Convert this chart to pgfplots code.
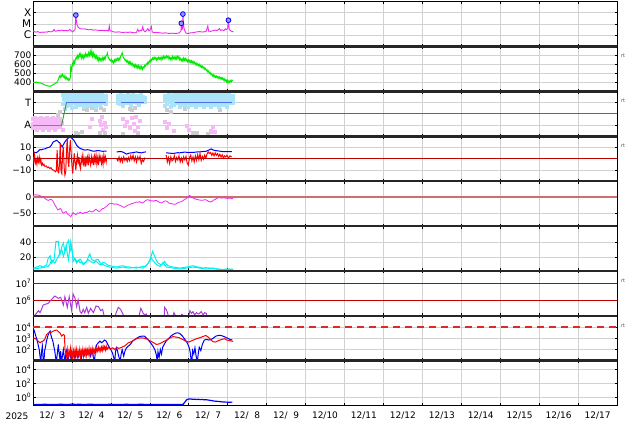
\documentclass[border=0pt]{standalone}
\usepackage{pgfplots}
\pgfplotsset{compat=1.18}
\usepackage{fontspec}
\setmainfont{DejaVu Sans}
\definecolor{xmag}{RGB}{240,40,240}
\definecolor{vgreen}{RGB}{0,235,0}
\definecolor{ltblue}{RGB}{170,228,250}
\definecolor{ltpink}{RGB}{245,185,245}
\definecolor{ltgray}{RGB}{205,205,205}
\definecolor{tline}{RGB}{80,110,230}
\definecolor{aline}{RGB}{240,80,120}
\definecolor{gline}{RGB}{70,140,70}
\definecolor{dstline}{RGB}{205,110,110}
\definecolor{kcyan}{RGB}{0,240,240}
\definecolor{epurp}{RGB}{170,60,220}
\definecolor{dred}{RGB}{190,0,0}
\definecolor{dashred}{RGB}{225,40,40}
\definecolor{fblue}{RGB}{150,150,255}
\pgfplotsset{
 panel/.style={width=584pt,height=44.9pt,scale only axis,anchor=north west,
   xmin=0,xmax=15,xtick={1,2,...,14},xticklabels={},
   grid=major, major grid style={draw=black!18,line width=0.5pt},
   axis line style={line width=0.7pt},
   tick align=inside, major tick length=2.5pt, tick style={black,line width=0.5pt},
   yticklabel style={font=\fontsize{9}{10}\selectfont, inner sep=1.5pt},
   every axis plot/.append style={line width=0.8pt},
   unbounded coords=jump, clip mode=individual},
}
\begin{document}
\begin{tikzpicture}
\useasboundingbox (0,0) rectangle (634pt,-424pt);
% ---------- 1 X-ray
\begin{axis}[panel, at={(33pt,-1.5pt)}, ymin=-7, ymax=-3, ytick={-6,-5,-4}, yticklabels={C,M,X},
  yticklabel style={font=\fontsize{10.5}{11}\selectfont}]
\addplot[xmag, line width=0.9pt] coordinates {
(0.00,-5.61)(0.04,-5.70)(0.08,-5.73)(0.12,-5.68)(0.16,-5.74)(0.20,-5.76)(0.24,-5.72)(0.28,-5.75)
(0.32,-5.71)(0.36,-5.73)(0.40,-5.66)(0.44,-5.70)(0.48,-5.69)(0.52,-5.62)(0.54,-5.49)(0.56,-5.63)
(0.60,-5.64)(0.64,-5.58)(0.68,-5.61)(0.72,-5.55)(0.76,-5.57)(0.80,-5.60)(0.84,-5.58)(0.88,-5.61)
(0.92,-5.55)(0.95,-5.49)(0.98,-5.62)(1.02,-5.70)(1.05,-5.60)(1.08,-5.49)(1.10,-4.21)(1.11,-4.60)
(1.13,-5.09)(1.16,-5.30)(1.21,-5.42)(1.26,-5.45)(1.32,-5.44)(1.38,-5.48)(1.44,-5.52)(1.50,-5.50)
(1.55,-5.55)(1.60,-5.53)(1.66,-5.56)(1.72,-5.58)(1.78,-5.57)(1.84,-5.60)(1.90,-5.58)(1.94,-5.62)
(1.96,-5.18)(1.98,-5.60)(2.02,-5.64)(2.06,-5.70)(2.10,-5.72)(2.15,-5.73)(2.20,-5.70)(2.26,-5.74)
(2.32,-5.76)(2.38,-5.73)(2.44,-5.75)(2.50,-5.72)(2.56,-5.77)(2.62,-5.79)(2.66,-5.74)(2.69,-5.48)
(2.72,-5.66)(2.76,-5.55)(2.79,-5.60)(2.82,-5.24)(2.84,-5.58)(2.88,-5.70)(2.92,-5.55)(2.95,-5.42)
(2.98,-5.62)(3.01,-5.50)(3.04,-5.24)(3.06,-5.70)(3.10,-5.78)(3.16,-5.75)(3.22,-5.77)(3.28,-5.80)
(3.34,-5.82)(3.40,-5.79)(3.46,-5.83)(3.52,-5.85)(3.58,-5.82)(3.64,-5.85)(3.70,-5.83)(3.76,-5.79)
(3.80,-5.60)(3.81,-4.94)(3.82,-5.50)(3.84,-5.45)(3.85,-4.12)(3.87,-5.20)(3.89,-5.55)(3.93,-5.82)
(3.98,-5.85)(4.04,-5.80)(4.10,-5.78)(4.16,-5.74)(4.22,-5.70)(4.28,-5.68)(4.34,-5.72)(4.40,-5.70)
(4.45,-5.65)(4.49,-5.18)(4.51,-5.64)(4.56,-5.66)(4.62,-5.60)(4.68,-5.55)(4.72,-5.60)(4.76,-5.50)
(4.79,-5.42)(4.82,-5.58)(4.86,-5.52)(4.90,-5.60)(4.94,-5.45)(4.97,-5.50)(5.00,-5.40)(5.02,-4.67)
(5.04,-5.50)(5.08,-5.62)(5.12,-5.68)(5.15,-5.70)};
\addplot[only marks, mark=*, mark size=2.4pt, mark options={draw=blue, fill=fblue, line width=0.8pt}] coordinates {
(1.10,-4.21)(3.81,-4.94)(3.85,-4.12)(5.02,-4.67)};
\end{axis}
% ---------- 2 speed
\begin{axis}[panel, at={(33pt,-46.4pt)}, ymin=300, ymax=800, ytick={400,500,600,700}, yticklabels={400,500,600,700}]
\addplot[vgreen, line width=1.0pt] coordinates {
(0.00,400)(0.04,398)(0.08,402)(0.12,396)(0.16,395)(0.20,392)(0.24,385)(0.28,375)(0.32,368)(0.36,362)
(0.40,358)(0.44,356)(0.48,365)(0.52,375)(0.56,385)(0.60,395)(0.63,410)(0.66,440)(0.68,470)(0.70,455)
(0.72,480)(0.74,462)(0.76,490)(0.78,470)(0.80,450)(0.82,475)(0.84,440)(0.86,455)(0.88,430)(0.90,445)
(0.92,420)(0.94,430)(0.96,460)(0.97,570)(0.99,540)(1.01,610)(1.03,590)(1.05,640)(1.07,610)(1.09,655)
(1.11,680)(1.13,660)(1.15,700)(1.17,675)(1.19,715)(1.21,690)(1.23,720)(1.25,670)(1.27,700)(1.29,665)
(1.31,705)(1.33,680)(1.35,720)(1.37,690)(1.39,710)(1.41,685)(1.43,730)(1.45,700)(1.47,745)(1.49,705)
(1.51,750)(1.53,690)(1.55,725)(1.57,680)(1.59,710)(1.61,670)(1.63,695)(1.65,650)(1.67,680)(1.69,640)
(1.71,670)(1.73,645)(1.75,665)(1.77,640)(1.79,675)(1.81,650)(1.83,680)(1.85,655)(1.87,690)(1.89,700)
(1.91,725)(1.93,680)(1.95,665)(1.97,650)(1.99,640)(2.01,655)(2.03,625)(2.05,640)(2.07,615)(2.09,650)
(2.11,630)(2.13,660)(2.15,640)(2.17,665)(2.19,645)(2.21,670)(2.23,650)(2.25,690)(2.27,705)(2.29,730)
(2.31,690)(2.33,670)(2.35,660)(2.37,640)(2.39,650)(2.41,625)(2.43,640)(2.45,610)(2.47,630)(2.49,600)
(2.51,625)(2.53,595)(2.55,610)(2.57,580)(2.59,600)(2.61,570)(2.63,595)(2.65,565)(2.67,590)(2.69,560)
(2.71,585)(2.73,555)(2.75,580)(2.77,550)(2.79,575)(2.81,545)(2.83,570)(2.85,560)(2.87,590)(2.89,580)
(2.91,605)(2.93,595)(2.95,625)(2.97,610)(2.99,640)(3.01,625)(3.03,655)(3.05,640)(3.07,670)(3.09,655)
(3.11,680)(3.13,660)(3.15,675)(3.17,650)(3.19,670)(3.21,655)(3.23,680)(3.25,660)(3.27,675)(3.29,650)
(3.31,680)(3.33,660)(3.35,690)(3.37,665)(3.39,685)(3.41,670)(3.43,695)(3.45,675)(3.47,690)(3.49,660)
(3.51,680)(3.53,655)(3.55,675)(3.57,650)(3.59,690)(3.61,665)(3.63,680)(3.65,655)(3.67,685)(3.69,660)
(3.71,690)(3.73,670)(3.75,685)(3.77,650)(3.79,665)(3.81,640)(3.83,660)(3.85,635)(3.87,670)(3.89,645)
(3.91,665)(3.93,640)(3.95,655)(3.97,630)(3.99,650)(4.01,625)(4.03,645)(4.05,620)(4.07,640)(4.09,615)
(4.11,635)(4.13,610)(4.15,625)(4.17,600)(4.19,615)(4.21,590)(4.23,605)(4.25,585)(4.27,600)(4.29,575)
(4.31,590)(4.33,565)(4.35,580)(4.37,560)(4.39,570)(4.41,545)(4.43,555)(4.45,530)(4.47,540)(4.49,515)
(4.51,525)(4.53,500)(4.55,510)(4.57,485)(4.59,495)(4.61,470)(4.63,485)(4.65,460)(4.67,475)(4.69,455)
(4.71,470)(4.73,450)(4.75,465)(4.77,445)(4.79,460)(4.81,440)(4.83,455)(4.85,435)(4.87,450)(4.89,425)
(4.91,440)(4.93,415)(4.95,430)(4.97,405)(4.99,425)(5.01,395)(5.03,415)(5.05,400)(5.07,420)(5.09,405)
(5.11,425)(5.13,415)};
\end{axis}
% ---------- 3 T/A
\begin{axis}[panel, at={(33pt,-91.3pt)}, ymin=-2, ymax=2, ytick={-1,1}, yticklabels={A,T},
  yticklabel style={font=\fontsize{10}{11}\selectfont}]
\addplot[gray!80!black, line width=0.6pt] coordinates {(0,0)(15,0)};
\addplot[ltgray, only marks, mark=square*, mark size=1.5pt] coordinates {
(1.30,0.45)(1.38,0.30)(1.50,0.50)(1.62,0.35)(1.75,0.55)(1.82,0.30)(1.10,-1.70)(1.15,-1.80)(1.25,-1.60)
(1.85,-1.75)(2.50,0.40)(2.55,0.30)(2.62,0.50)(3.45,0.30)(3.55,0.20)(4.10,-1.75)(4.20,-1.70)(4.50,-1.80)
(4.58,-1.65)(0.70,0.20)(0.65,-0.10)(1.72,-1.75)(1.45,1.85)(1.70,1.85)(2.45,1.85)(4.30,1.85)(4.80,0.35)
(3.90,0.40)(2.30,-1.80)(2.70,-1.70)};
\addplot[ltpink, only marks, mark=square*, mark size=1.5pt] coordinates {
(0.00,-0.50)(0.00,-0.90)(0.00,-1.30)(0.05,-0.40)(0.05,-0.80)(0.05,-1.20)(0.10,-0.60)(0.10,-1.00)(0.10,-1.40)
(0.15,-0.50)(0.15,-0.90)(0.15,-1.30)(0.20,-0.40)(0.20,-0.80)(0.20,-1.20)(0.25,-0.60)(0.25,-1.00)(0.25,-1.40)
(0.30,-0.50)(0.30,-0.90)(0.30,-1.30)(0.35,-0.40)(0.35,-0.80)(0.35,-1.20)(0.40,-0.60)(0.40,-1.00)(0.40,-1.40)
(0.45,-0.50)(0.45,-0.90)(0.45,-1.30)(0.50,-0.40)(0.50,-0.80)(0.50,-1.20)(0.55,-0.60)(0.55,-1.00)(0.55,-1.40)
(0.60,-0.50)(0.60,-0.90)(0.60,-1.30)(0.65,-0.70)(0.65,-1.10)(0.70,-0.50)(0.70,-1.20)(0.75,-0.80)(0.78,-1.40)
(1.72,-0.60)(1.74,-1.00)(1.76,-0.30)(1.80,-1.40)(1.84,-0.80)(1.87,-1.20)(2.32,-0.50)(2.36,-1.10)(2.42,-0.70)
(2.50,-1.30)(2.55,-0.40)(2.60,-0.90)(2.65,-0.30)(2.70,-1.20)(2.74,-0.60)(3.40,-0.70)(3.45,-1.30)(3.50,-0.90)
(3.62,-1.50)(3.95,-1.10)(4.00,-1.40)(4.58,-1.50)(4.62,-1.20)(4.66,-1.60)(1.50,-0.50)(1.45,-1.20)(2.62,-1.50)};
\addplot[ltblue, only marks, mark=square*, mark size=1.5pt] coordinates {
(0.76,1.70)(0.76,0.90)(0.79,1.30)(0.81,1.50)(0.81,1.05)(0.81,0.45)
(0.86,1.65)(0.86,1.35)(0.86,1.05)(0.86,0.70)(0.91,1.55)(0.91,1.25)(0.91,0.95)
(0.96,1.70)(0.96,1.40)(0.96,1.10)(0.96,0.80)(1.01,1.60)(1.01,1.30)(1.01,1.00)(1.01,0.55)
(1.06,1.65)(1.06,1.35)(1.06,1.05)(1.11,1.55)(1.11,1.25)(1.11,0.95)(1.11,0.65)
(1.16,1.70)(1.16,1.40)(1.16,1.10)(1.21,1.60)(1.21,1.30)(1.21,1.00)(1.21,0.75)
(1.26,1.65)(1.26,1.35)(1.26,1.05)(1.31,1.55)(1.31,1.25)(1.31,0.95)(1.31,0.60)
(1.36,1.70)(1.36,1.40)(1.36,1.10)(1.41,1.60)(1.41,1.30)(1.41,1.00)(1.41,0.70)
(1.46,1.65)(1.46,1.35)(1.46,1.05)(1.51,1.55)(1.51,1.25)(1.51,0.95)(1.51,0.80)
(1.56,1.70)(1.56,1.40)(1.56,1.10)(1.61,1.60)(1.61,1.30)(1.61,1.00)(1.61,0.65)
(1.66,1.65)(1.66,1.35)(1.66,1.05)(1.71,1.55)(1.71,1.25)(1.71,0.95)(1.71,0.75)
(1.76,1.70)(1.76,1.40)(1.76,1.10)(1.81,1.60)(1.81,1.30)(1.81,1.00)(1.86,1.55)(1.86,1.25)(1.86,0.90)
(2.17,1.60)(2.17,1.30)(2.17,0.95)(2.22,1.50)(2.22,1.20)(2.22,0.85)(2.27,1.65)(2.27,1.35)(2.27,1.05)
(2.32,1.55)(2.32,1.25)(2.32,0.70)(2.37,1.60)(2.37,1.30)(2.37,1.00)(2.42,1.45)(2.42,1.15)
(2.47,1.60)(2.47,1.30)(2.47,1.00)(2.52,1.55)(2.52,1.25)(2.52,0.80)(2.57,1.65)(2.57,1.35)(2.57,1.05)
(2.62,1.50)(2.62,1.20)(2.67,1.60)(2.67,1.30)(2.67,0.95)(2.72,1.55)(2.72,1.25)(2.72,0.75)
(2.77,1.65)(2.77,1.35)(2.77,1.05)(2.82,1.50)(2.82,1.20)(2.87,1.40)(2.87,1.10)
(3.38,1.60)(3.38,1.20)(3.38,0.70)(3.43,1.50)(3.43,1.20)(3.43,0.90)(3.48,1.65)(3.48,1.35)(3.48,1.05)
(3.53,1.55)(3.53,1.25)(3.53,0.60)(3.58,1.60)(3.58,1.30)(3.58,1.00)(3.63,1.70)(3.63,1.40)(3.63,1.10)(3.63,0.80)
(3.68,1.55)(3.68,1.25)(3.68,0.95)(3.73,1.65)(3.73,1.35)(3.73,1.05)(3.78,1.55)(3.78,1.25)(3.78,0.95)(3.78,0.65)
(3.83,1.70)(3.83,1.40)(3.83,1.10)(3.88,1.60)(3.88,1.30)(3.88,1.00)(3.88,0.75)
(3.93,1.65)(3.93,1.35)(3.93,1.05)(3.98,1.55)(3.98,1.25)(3.98,0.95)(3.98,0.65)
(4.03,1.70)(4.03,1.40)(4.03,1.10)(4.08,1.60)(4.08,1.30)(4.08,1.00)(4.08,0.75)
(4.13,1.65)(4.13,1.35)(4.13,1.05)(4.18,1.55)(4.18,1.25)(4.18,0.95)(4.18,0.65)
(4.23,1.70)(4.23,1.40)(4.23,1.10)(4.28,1.60)(4.28,1.30)(4.28,1.00)(4.28,0.75)
(4.33,1.65)(4.33,1.35)(4.33,1.05)(4.38,1.55)(4.38,1.25)(4.38,0.95)(4.38,0.65)
(4.43,1.70)(4.43,1.40)(4.43,1.10)(4.48,1.60)(4.48,1.30)(4.48,1.00)(4.48,0.75)
(4.53,1.65)(4.53,1.35)(4.53,1.05)(4.58,1.55)(4.58,1.25)(4.58,0.95)(4.58,0.65)
(4.63,1.70)(4.63,1.40)(4.63,1.10)(4.68,1.60)(4.68,1.30)(4.68,1.00)(4.68,0.75)
(4.73,1.65)(4.73,1.35)(4.73,1.05)(4.78,1.55)(4.78,1.25)(4.78,0.95)(4.78,0.65)
(4.83,1.70)(4.83,1.40)(4.83,1.10)(4.88,1.60)(4.88,1.30)(4.88,1.00)(4.88,0.75)
(4.93,1.65)(4.93,1.35)(4.93,1.05)(4.98,1.55)(4.98,1.25)(4.98,0.95)(4.98,0.65)
(5.03,1.70)(5.03,1.40)(5.03,1.10)(5.08,1.60)(5.08,1.30)(5.08,1.00)(5.13,1.55)(5.13,1.25)(5.13,0.95)};
\addplot[aline, line width=0.9pt] coordinates {(0,-1)(0.735,-1)};
\addplot[gline, line width=0.9pt] coordinates {(0.735,-1)(0.86,1)};
\addplot[tline, line width=0.9pt] coordinates {(0.86,1)(1.87,1)(1.88,nan)(2.27,1)(2.85,1)(2.86,nan)(3.64,1)(5.11,1)};
\end{axis}
% ---------- 4 B field
\begin{axis}[panel, at={(33pt,-136.2pt)}, ymin=-20, ymax=20, ytick={-10,0,10}, yticklabels={−10,0,10}]
\addplot[blue, line width=1.0pt] coordinates {
(0.00,6.0)(0.04,5.5)(0.09,5.4)(0.13,6.5)(0.18,8.2)(0.22,7.8)(0.26,8.5)(0.31,8.7)(0.35,9.5)(0.40,10.0)
(0.44,10.5)(0.48,12.5)(0.52,14.9)(0.56,15.5)(0.61,16.4)(0.65,15.0)(0.69,14.0)(0.72,12.0)(0.75,10.5)
(0.78,12.5)(0.82,15.0)(0.85,16.4)(0.88,17.5)(0.91,18.5)(0.95,19.0)(0.99,18.5)(1.02,17.5)(1.05,16.4)
(1.09,14.0)(1.12,12.0)(1.16,10.5)(1.21,9.1)(1.26,8.5)(1.33,7.6)(1.40,8.0)(1.46,7.6)(1.52,6.8)(1.59,6.7)
(1.65,7.2)(1.72,7.0)(1.79,6.5)(1.85,6.7)(1.89,6.7)(1.90,nan)
(2.15,6.0)(2.20,6.2)(2.27,6.3)(2.33,5.5)(2.40,4.0)(2.46,4.8)(2.53,5.2)(2.60,5.6)(2.66,6.0)(2.72,5.4)
(2.79,5.2)(2.85,5.8)(2.90,6.0)(2.92,nan)
(3.42,5.2)(3.48,5.0)(3.54,4.8)(3.60,4.6)(3.66,5.0)(3.72,5.3)(3.77,5.2)(3.83,5.5)(3.88,5.8)(3.94,5.7)
(4.00,5.4)(4.05,5.6)(4.11,5.5)(4.17,5.8)(4.22,6.0)(4.28,6.0)(4.34,6.3)(4.40,6.5)(4.45,6.6)(4.50,7.5)
(4.54,8.0)(4.58,8.7)(4.62,7.8)(4.67,7.3)(4.73,7.0)(4.79,6.7)(4.85,6.4)(4.91,6.3)(4.97,6.2)(5.03,6.3)
(5.08,6.2)(5.11,6.2)};
\addplot[red, line width=1.0pt] coordinates {
(0.00,1.6)(0.02,-2.5)(0.04,3.0)(0.06,-4.0)(0.08,-1.0)(0.10,-5.0)(0.12,0.5)(0.14,-2.8)(0.16,1.5)(0.18,-3.5)
(0.20,-0.5)(0.22,-5.5)(0.24,-4.0)(0.26,-6.0)(0.28,-5.0)(0.31,-7.0)(0.34,-6.5)(0.37,-8.0)(0.40,-7.5)
(0.43,-8.8)(0.46,-8.0)(0.49,-9.5)(0.52,-10.2)(0.55,-10.8)(0.58,-11.7)(0.60,-10.5)(0.62,7.5)(0.64,-11.7)
(0.66,-12.5)(0.68,-5.0)(0.70,13.5)(0.72,-11.0)(0.74,-13.2)(0.76,4.0)(0.78,10.5)(0.80,-8.0)(0.82,-14.7)
(0.84,-12.0)(0.86,6.0)(0.88,17.9)(0.90,-2.0)(0.92,-7.3)(0.94,8.0)(0.96,16.4)(0.98,5.0)(1.00,-6.0)
(1.02,-13.2)(1.04,-4.0)(1.06,4.6)(1.08,-3.0)(1.10,-10.2)(1.12,-2.0)(1.14,3.0)(1.16,-5.0)(1.18,1.6)
(1.20,-6.0)(1.22,-8.8)(1.24,0.5)(1.26,-3.0)(1.28,3.1)(1.30,-4.5)(1.32,-1.0)(1.34,-7.3)(1.36,2.0)
(1.38,-3.5)(1.40,1.0)(1.42,-6.0)(1.44,2.5)(1.46,-2.0)(1.48,-5.5)(1.50,1.6)(1.52,-3.0)(1.54,0.5)
(1.56,-5.8)(1.58,2.0)(1.60,-2.5)(1.62,3.1)(1.64,-4.5)(1.66,0.5)(1.68,-5.8)(1.70,2.5)(1.72,-1.5)
(1.74,1.6)(1.76,-4.0)(1.78,0.5)(1.80,-5.0)(1.82,3.0)(1.84,-2.0)(1.86,1.6)(1.88,-2.8)(1.89,0.0)(1.90,nan)
(2.15,0.0)(2.18,-2.0)(2.21,1.5)(2.24,-2.8)(2.27,0.5)(2.30,-3.0)(2.33,1.6)(2.36,-1.5)(2.39,0.5)(2.42,-2.5)
(2.45,1.0)(2.48,-1.8)(2.51,2.5)(2.54,-1.0)(2.57,3.1)(2.60,-2.0)(2.63,1.5)(2.66,-3.0)(2.69,1.6)(2.72,-1.0)
(2.75,2.0)(2.78,-4.3)(2.81,-1.0)(2.84,-2.5)(2.87,0.5)(2.90,0.0)(2.92,nan)
(3.42,3.1)(3.45,-3.0)(3.48,1.0)(3.51,-4.3)(3.54,1.6)(3.57,-2.0)(3.60,-1.0)(3.63,2.5)(3.66,-2.5)(3.69,1.0)
(3.72,-1.4)(3.75,2.5)(3.78,-3.0)(3.81,0.5)(3.84,-2.8)(3.87,1.6)(3.90,-1.0)(3.93,2.0)(3.96,-4.0)(3.99,-5.8)
(4.02,1.0)(4.05,3.1)(4.08,-2.0)(4.11,1.5)(4.14,-3.0)(4.17,2.5)(4.20,-1.4)(4.23,3.5)(4.26,-1.0)(4.29,4.6)
(4.32,-1.5)(4.35,2.0)(4.38,-0.5)(4.41,3.1)(4.44,0.5)(4.47,4.0)(4.50,6.0)(4.53,4.6)(4.56,5.5)(4.59,3.0)
(4.62,5.0)(4.65,2.5)(4.68,5.1)(4.71,3.0)(4.74,4.5)(4.77,2.0)(4.80,3.9)(4.83,1.5)(4.86,3.5)(4.89,0.5)
(4.92,2.5)(4.95,1.6)(4.98,3.0)(5.02,0.5)(5.06,2.5)(5.10,1.6)};
\addplot[dred, line width=0.8pt] coordinates {(0,0)(15,0)};
\end{axis}
% ---------- 5 Dst
\begin{axis}[panel, at={(33pt,-181.1pt)}, ymin=-90, ymax=50, ytick={-50,0}, yticklabels={−50,0}]
\addplot[dstline, line width=1.6pt] coordinates {(0,0)(15,0)};
\addplot[xmag] coordinates {
(0.00,6)(0.05,7)(0.10,7)(0.14,6)(0.19,4)(0.23,2)(0.27,0)(0.31,-4)(0.35,-8)(0.39,-10)(0.43,-8)(0.47,-7)
(0.51,-12)(0.55,-22)(0.58,-28)(0.61,-34)(0.64,-40)(0.67,-38)(0.70,-35)(0.73,-40)(0.76,-48)(0.79,-50)
(0.82,-46)(0.85,-45)(0.88,-52)(0.91,-55)(0.94,-57)(0.97,-61)(1.00,-55)(1.03,-48)(1.06,-51)(1.09,-54)
(1.12,-53)(1.15,-49)(1.18,-50)(1.21,-47)(1.24,-49)(1.27,-51)(1.30,-50)(1.34,-47)(1.38,-48)(1.42,-45)
(1.46,-43)(1.50,-46)(1.54,-45)(1.58,-41)(1.62,-38)(1.66,-42)(1.70,-45)(1.74,-42)(1.78,-36)(1.82,-35)
(1.86,-31)(1.90,-28)(1.94,-22)(1.98,-20)(2.02,-19)(2.06,-21)(2.10,-22)(2.14,-21)(2.18,-23)(2.22,-25)
(2.26,-27)(2.30,-30)(2.34,-32)(2.38,-29)(2.42,-26)(2.46,-24)(2.50,-22)(2.54,-20)(2.58,-19)(2.62,-17)
(2.66,-15)(2.70,-16)(2.74,-14)(2.78,-17)(2.82,-18)(2.86,-14)(2.90,-10)(2.94,-8)(2.98,-9)(3.02,-12)
(3.06,-11)(3.10,-13)(3.14,-10)(3.18,-11)(3.22,-14)(3.26,-17)(3.30,-18)(3.34,-15)(3.38,-12)(3.42,-12)
(3.46,-15)(3.50,-19)(3.54,-20)(3.58,-21)(3.62,-22)(3.66,-22)(3.70,-19)(3.74,-16)(3.78,-15)(3.82,-14)
(3.86,-10)(3.90,-7)(3.94,-4)(3.98,0)(4.02,5)(4.05,3)(4.08,-1)(4.12,-3)(4.16,-5)(4.20,-7)(4.24,-8)
(4.28,-9)(4.32,-10)(4.36,-10)(4.40,-8)(4.44,-8)(4.48,-11)(4.52,-14)(4.56,-15)(4.60,-13)(4.64,-9)
(4.68,-7)(4.72,-4)(4.76,-2)(4.80,-2)(4.85,-3)(4.90,-2)(4.95,-3)(5.00,-4)(5.05,-3)(5.10,-4)(5.14,-5)};
\end{axis}
% ---------- 6 cyan
\begin{axis}[panel, at={(33pt,-226.0pt)}, ymin=1.5, ymax=61.5, ytick={20,40}, yticklabels={20,40}]
\addplot[kcyan, line width=1.0pt] coordinates {
(0.01,5.3)(0.09,6.6)(0.18,8.4)(0.26,6.6)(0.35,9.7)(0.39,18.6)(0.44,21.7)(0.48,12.0)(0.54,16.4)
(0.59,40.8)(0.65,40.8)(0.69,23.0)(0.74,34.2)(0.78,38.6)(0.82,27.5)(0.86,36.4)(0.91,42.1)(0.95,27.5)
(0.99,34.2)(1.03,14.2)(1.08,18.0)(1.12,14.2)(1.17,16.0)(1.21,12.0)(1.25,13.5)(1.29,9.7)(1.34,12.0)
(1.38,14.2)(1.42,20.0)(1.46,24.4)(1.50,17.3)(1.55,15.5)(1.59,14.2)(1.63,17.0)(1.68,16.4)(1.72,12.5)
(1.76,11.1)(1.80,13.0)(1.85,12.0)(1.91,9.5)(1.97,8.4)(2.06,7.5)(2.15,6.6)(2.23,8.0)(2.32,8.4)
(2.40,7.0)(2.49,6.6)(2.57,5.8)(2.66,5.3)(2.74,6.5)(2.83,7.5)(2.91,8.4)(2.96,12.0)(3.00,16.4)
(3.04,22.0)(3.07,27.5)(3.10,24.0)(3.13,20.8)(3.17,15.0)(3.21,12.0)(3.26,10.5)(3.30,9.7)(3.34,11.0)
(3.38,14.2)(3.42,11.0)(3.47,8.4)(3.54,7.5)(3.60,6.6)(3.68,6.0)(3.77,5.3)(3.85,6.0)(3.94,6.6)
(4.02,7.5)(4.11,8.4)(4.17,7.5)(4.24,6.6)(4.30,6.0)(4.37,5.3)(4.45,5.8)(4.54,5.3)(4.62,4.8)
(4.71,4.4)(4.80,3.8)(4.88,3.1)(4.97,3.5)(5.05,4.0)(5.14,4.0)};
\addplot[kcyan, line width=1.0pt] coordinates {
(0.01,4.0)(0.09,4.6)(0.18,5.3)(0.24,6.0)(0.31,6.6)(0.39,7.5)(0.44,11.0)(0.48,16.4)(0.52,14.0)
(0.56,12.0)(0.61,17.0)(0.65,20.8)(0.69,25.0)(0.74,29.7)(0.78,20.8)(0.82,27.0)(0.85,34.2)(0.88,25.0)
(0.91,16.4)(0.94,28.0)(0.97,40.8)(1.00,30.0)(1.03,20.8)(1.08,16.0)(1.12,12.0)(1.16,14.5)(1.21,17.3)
(1.25,14.0)(1.29,11.1)(1.36,13.5)(1.42,16.4)(1.48,14.0)(1.55,12.0)(1.59,13.5)(1.63,14.2)(1.68,11.5)
(1.72,9.7)(1.78,10.5)(1.85,8.4)(1.91,7.5)(1.97,6.6)(2.06,5.8)(2.15,5.3)(2.23,6.0)(2.32,6.6)
(2.40,5.8)(2.49,5.3)(2.57,6.0)(2.66,6.6)(2.74,5.8)(2.83,5.3)(2.90,8.0)(2.96,12.0)(3.00,15.0)
(3.04,18.6)(3.08,15.5)(3.13,12.0)(3.19,9.5)(3.26,7.5)(3.30,10.0)(3.34,12.9)(3.38,9.5)(3.43,6.6)
(3.51,6.0)(3.60,5.3)(3.68,4.6)(3.77,4.0)(3.85,4.6)(3.94,5.3)(4.02,6.0)(4.11,6.6)(4.19,6.0)
(4.28,5.3)(4.36,4.6)(4.45,4.0)(4.54,4.6)(4.62,5.3)(4.71,4.0)(4.79,3.1)(4.88,3.5)(4.97,4.0)
(5.05,3.5)(5.14,3.1)};
\end{axis}
% ---------- 7 purple (log)
\begin{axis}[panel, at={(33pt,-270.9pt)}, ymin=5.05, ymax=7.75, ytick={6,7}, yticklabels={10\textsuperscript{6},10\textsuperscript{7}}]
\addplot[dred, line width=0.8pt] coordinates {(0,6)(15,6)};
\addplot[dred, line width=0.8pt] coordinates {(0,7)(15,7)};
\addplot[epurp, line width=1.0pt] coordinates {
(0.05,5.10)(0.09,5.20)(0.14,5.36)(0.18,5.24)(0.22,5.44)(0.26,5.70)(0.39,5.80)(0.48,6.04)(0.56,6.24)
(0.65,6.10)(0.71,6.16)(0.78,5.70)(0.82,6.20)(0.88,5.56)(0.93,6.20)(0.99,5.40)(1.03,6.36)(1.08,6.10)
(1.12,5.60)(1.16,6.00)(1.21,5.30)(1.25,5.20)(1.29,5.44)(1.33,5.24)(1.38,5.56)(1.42,5.20)(1.48,5.50)
(1.55,5.24)(1.62,5.64)(1.68,5.60)(1.74,5.36)(1.79,5.44)(1.82,5.10)(1.85,4.90)(1.86,nan)
(2.10,4.90)(2.13,5.20)(2.19,5.56)(2.25,5.44)(2.32,5.10)(2.34,4.90)(2.35,nan)
(2.71,4.90)(2.73,5.10)(2.77,5.50)(2.83,5.20)(2.87,5.10)(2.91,5.16)(2.93,4.90)(2.94,nan)
(3.37,4.90)(3.38,5.56)(3.43,5.40)(3.47,5.10)(3.50,4.90)(3.51,nan)
(3.58,4.90)(3.62,5.24)(3.65,5.10)(3.68,4.90)(3.69,nan)
(3.79,4.90)(3.82,5.14)(3.85,5.10)(3.87,4.90)(3.88,nan)
(3.99,4.90)(4.03,5.36)(4.07,5.20)(4.11,5.30)(4.15,5.10)(4.20,5.24)(4.24,5.16)(4.28,5.20)(4.32,5.30)
(4.37,5.10)(4.41,5.24)(4.45,5.20)(4.48,4.90)};
\end{axis}
% ---------- 8 log flux
\begin{axis}[panel, at={(33pt,-315.8pt)}, ymin=1, ymax=5, ytick={2,3,4}, yticklabels={10\textsuperscript{2},10\textsuperscript{3},10\textsuperscript{4}}]
\addplot[blue, line width=1.0pt] coordinates {
(0.00,3.94)(0.03,3.70)(0.06,3.34)(0.09,3.00)(0.11,2.75)(0.14,2.30)(0.16,2.00)(0.18,1.40)(0.20,0.90)
(0.22,1.80)(0.24,2.30)(0.26,1.20)(0.28,0.90)(0.30,1.90)(0.32,2.20)(0.35,2.80)(0.38,3.19)(0.41,3.50)
(0.44,3.64)(0.46,3.30)(0.48,3.04)(0.51,2.75)(0.54,2.20)(0.56,1.85)(0.58,1.30)(0.60,0.90)(0.63,1.80)
(0.65,2.45)(0.67,1.70)(0.69,1.20)(0.71,1.85)(0.73,0.90)(0.75,1.30)(0.78,1.99)(0.80,1.40)(0.82,0.90)
(0.84,1.50)(0.86,1.85)(0.88,1.10)(0.90,0.90)(0.92,1.60)(0.95,1.70)(0.98,1.10)
(1.00,1.30)(1.04,1.60)(1.08,1.20)(1.12,1.85)(1.16,1.30)(1.20,1.70)(1.24,1.20)(1.28,1.85)(1.32,1.50)
(1.36,1.99)(1.40,1.60)(1.44,1.85)(1.48,1.40)(1.52,1.99)(1.55,1.30)(1.58,1.00)(1.61,2.10)(1.64,2.45)
(1.68,2.60)(1.72,2.75)(1.76,2.60)(1.80,2.70)(1.84,2.84)(1.88,2.75)(1.92,2.45)(1.96,2.20)(2.00,1.99)
(2.04,1.70)(2.08,1.20)(2.10,0.90)(2.12,1.85)(2.15,2.15)(2.18,1.70)(2.21,1.30)(2.24,0.90)(2.26,1.50)
(2.29,1.99)(2.33,1.40)(2.36,1.85)(2.40,2.15)(2.45,2.30)
(2.50,2.45)(2.56,2.75)(2.62,2.90)(2.68,3.04)(2.74,3.15)(2.80,3.19)(2.86,3.19)(2.91,3.04)(2.96,2.84)
(3.02,2.60)(3.08,2.30)(3.13,1.99)(3.17,1.50)(3.19,0.90)(3.21,1.80)(3.24,1.30)(3.27,2.00)(3.30,1.60)
(3.33,2.20)(3.37,2.45)(3.42,2.75)(3.48,2.96)(3.54,3.19)(3.60,3.34)(3.66,3.45)(3.72,3.49)(3.78,3.40)
(3.84,3.19)(3.90,2.90)(3.96,2.60)(4.01,2.20)(4.04,1.70)(4.06,1.10)(4.08,0.90)(4.10,1.90)(4.13,1.60)
(4.16,2.15)(4.19,1.40)(4.22,0.90)(4.24,1.50)(4.27,2.20)(4.31,1.90)(4.35,2.45)(4.40,2.84)(4.46,2.90)
(4.52,2.84)(4.58,2.90)(4.64,3.04)(4.70,3.19)(4.76,3.25)(4.82,3.25)(4.88,3.19)(4.94,3.10)(5.00,3.00)
(5.06,2.90)(5.12,2.84)};
\addplot[red, line width=1.0pt] coordinates {
(0.00,3.04)(0.04,3.00)(0.09,2.90)(0.13,2.75)(0.18,2.60)(0.22,2.70)(0.26,2.75)(0.30,2.90)(0.35,3.34)
(0.39,3.45)(0.44,3.49)(0.48,3.55)(0.52,3.64)(0.56,3.70)(0.61,3.73)(0.65,3.60)(0.69,3.49)(0.74,3.19)
(0.78,3.34)(0.81,3.25)(0.82,2.00)(0.84,1.70)(0.86,1.40)(0.88,2.00)(0.90,1.20)(0.92,1.85)(0.94,1.55)
(0.96,2.10)(0.98,1.30)(1.00,1.90)(1.02,1.10)(1.04,1.85)(1.06,1.40)(1.08,2.00)(1.10,1.50)(1.12,1.99)
(1.14,1.20)(1.16,1.85)(1.18,1.50)(1.20,2.00)(1.22,1.30)(1.24,1.90)(1.26,1.60)(1.28,2.05)(1.30,1.40)
(1.32,1.90)(1.34,1.50)(1.36,2.00)(1.38,1.45)(1.40,1.95)(1.42,1.60)(1.44,2.10)(1.46,1.50)(1.48,1.99)
(1.50,1.70)(1.52,2.10)(1.54,1.60)(1.56,2.00)(1.58,1.75)(1.60,2.15)(1.62,1.80)(1.64,2.10)(1.66,1.85)
(1.68,2.20)(1.70,1.90)(1.72,2.15)(1.74,1.85)(1.76,2.20)(1.78,1.90)(1.80,2.30)(1.82,2.00)(1.84,2.25)
(1.86,1.95)(1.88,2.30)(1.90,2.00)(1.93,2.20)(1.96,2.10)(2.00,2.05)(2.05,2.15)(2.10,2.00)(2.15,2.20)
(2.20,2.10)(2.25,2.15)(2.30,2.24)(2.35,2.30)(2.40,2.45)(2.45,2.60)(2.50,2.66)(2.55,2.75)(2.62,2.90)
(2.70,3.00)(2.78,3.04)(2.86,3.00)(2.94,2.90)(3.02,2.75)(3.10,2.60)(3.17,2.45)(3.24,2.50)(3.30,2.60)
(3.38,2.75)(3.46,2.90)(3.52,3.04)(3.60,3.15)(3.68,3.10)(3.76,3.04)(3.84,2.90)(3.92,2.75)(4.00,2.66)
(4.06,2.75)(4.12,2.84)(4.20,2.96)(4.28,3.04)(4.36,3.15)(4.44,3.25)(4.50,3.10)(4.56,2.90)(4.62,2.70)
(4.68,2.66)(4.74,2.75)(4.80,2.84)(4.86,2.90)(4.92,2.96)(4.98,2.84)(5.04,2.80)(5.10,2.75)(5.14,2.72)};
\addplot[dashred, line width=1.4pt, dash pattern=on 7pt off 5pt] coordinates {(0,4)(15,4)};
\end{axis}
% ---------- 9 bottom log
\begin{axis}[panel, at={(33pt,-360.7pt)}, ymin=-1.2, ymax=5.2, ytick={0,2,4},
  yticklabels={10\textsuperscript{0},10\textsuperscript{2},10\textsuperscript{4}},
  extra x ticks={0.5,1.5,...,14.5},
  extra x tick labels={12/\hphantom{0}3,12/\hphantom{0}4,12/\hphantom{0}5,12/\hphantom{0}6,12/\hphantom{0}7,12/\hphantom{0}8,12/\hphantom{0}9,12/10,12/11,12/12,12/13,12/14,12/15,12/16,12/17},
  extra x tick style={grid=none, major tick length=0pt, xticklabel style={font=\fontsize{9}{10}\selectfont, yshift=-3pt}}]
\addplot[blue, line width=1.2pt] coordinates {
(0.00,-1.05)(0.10,-1.03)(0.20,-1.05)(0.30,-1.00)(0.40,-1.04)(0.50,-1.02)(0.60,-1.05)(0.70,-1.00)
(0.80,-1.03)(0.90,-1.05)(1.00,-0.98)(1.10,-1.03)(1.20,-1.00)(1.30,-1.05)(1.40,-1.02)(1.50,-1.00)
(1.60,-1.05)(1.70,-1.02)(1.80,-1.05)(1.90,-1.03)(2.00,-1.00)(2.10,-1.05)(2.20,-1.03)(2.30,-1.05)
(2.40,-1.00)(2.50,-1.04)(2.60,-1.05)(2.70,-1.02)(2.80,-1.00)(2.90,-1.05)(3.00,-1.03)(3.10,-1.05)
(3.20,-1.04)(3.30,-1.05)(3.40,-1.03)(3.50,-1.05)(3.60,-1.04)(3.70,-1.03)(3.80,-1.05)(3.86,-1.00)
(3.90,-0.70)(3.95,-0.35)(4.00,-0.25)(4.05,-0.26)(4.10,-0.30)(4.15,-0.28)(4.20,-0.33)(4.25,-0.30)
(4.30,-0.35)(4.35,-0.33)(4.40,-0.38)(4.45,-0.36)(4.55,-0.45)(4.65,-0.55)(4.75,-0.60)(4.85,-0.66)
(4.95,-0.70)(5.05,-0.72)(5.12,-0.70)};
\end{axis}
% separators
\foreach \yy in {46.4,91.3,136.2,181.1,226.0,270.9,315.8,360.7}{
  \draw[line width=2.6pt, black!85] (33pt,-\yy pt) -- (617pt,-\yy pt);}
\draw[line width=1.0pt] (33pt,-1.5pt) -- (617pt,-1.5pt);
\draw[line width=1.6pt] (33pt,-405.6pt) -- (617pt,-405.6pt);
\foreach \yy in {56,101,146,281,326}{
  \node[font=\fontsize{5}{6}\selectfont, text=black!70] at (623pt,-\yy pt) {rt};}
\node[font=\fontsize{9}{10}\selectfont] at (17pt,-416pt) {2025};
\end{tikzpicture}
\end{document}
